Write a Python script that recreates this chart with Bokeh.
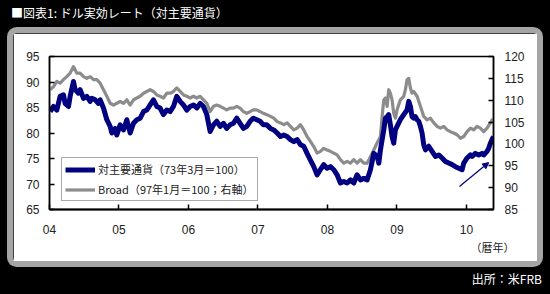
from bokeh.plotting import figure
from bokeh.layouts import column
from bokeh.models import (LinearAxis, Range1d, Legend, LegendItem, Arrow, NormalHead,
                          FixedTicker, Div, Title)
from bokeh.embed import file_html
from bokeh.resources import INLINE

title_text = "■図表1: ドル実効レート（対主要通貨）"
source_text = "出所：米FRB"
xunit_text = "（暦年）"
major_name = "対主要通貨（73年3月＝100）"
broad_name = "Broad（97年1月＝100；右軸）"

year_ticks = [2004, 2005, 2006, 2007, 2008, 2009, 2010]
year_labels = ["04", "05", "06", "07", "08", "09", "10"]
left_ticks = [65, 70, 75, 80, 85, 90, 95]
right_ticks = [85, 90, 95, 100, 105, 110, 115, 120]

# 対主要通貨 (left axis), decimal year / index value
major_t = [2004.010, 2004.058, 2004.105, 2004.153, 2004.201, 2004.225, 2004.273, 2004.297,
           2004.345, 2004.369, 2004.417, 2004.441, 2004.489, 2004.537, 2004.585, 2004.609,
           2004.657, 2004.705, 2004.729, 2004.777, 2004.825, 2004.873, 2004.897, 2004.945,
           2004.969, 2005.017, 2005.065, 2005.113, 2005.161, 2005.209, 2005.257, 2005.305,
           2005.353, 2005.400, 2005.448, 2005.496, 2005.544, 2005.592, 2005.640, 2005.688,
           2005.736, 2005.784, 2005.832, 2005.880, 2005.928, 2005.976, 2006.024, 2006.072,
           2006.120, 2006.168, 2006.216, 2006.264, 2006.312, 2006.360, 2006.408, 2006.456,
           2006.504, 2006.551, 2006.599, 2006.647, 2006.695, 2006.743, 2006.791, 2006.839,
           2006.887, 2006.935, 2006.983, 2007.031, 2007.079, 2007.127,
           2007.180, 2007.228, 2007.276, 2007.324, 2007.372, 2007.420, 2007.468, 2007.516,
           2007.564, 2007.612, 2007.659, 2007.707, 2007.755, 2007.803, 2007.851, 2007.899,
           2007.947, 2007.995, 2008.043, 2008.091, 2008.139, 2008.187, 2008.235, 2008.283,
           2008.331, 2008.379, 2008.427, 2008.475, 2008.523, 2008.571, 2008.619, 2008.667,
           2008.715, 2008.739, 2008.763, 2008.811, 2008.835, 2008.859, 2008.882, 2008.906,
           2008.930, 2008.954, 2008.978, 2009.002, 2009.050, 2009.098, 2009.146, 2009.170,
           2009.194, 2009.218, 2009.242, 2009.266, 2009.290, 2009.314, 2009.338, 2009.362,
           2009.386, 2009.410, 2009.458, 2009.506, 2009.554, 2009.602, 2009.650, 2009.698,
           2009.746, 2009.794, 2009.842, 2009.890, 2009.938, 2009.962, 2010.010, 2010.058,
           2010.082, 2010.129, 2010.177, 2010.225, 2010.249, 2010.297, 2010.321, 2010.345,
           2010.369, 2010.390]
major_v = [84.2, 85.2, 84.5, 87.2, 87.5, 85.8, 85.2, 87.2,
           90.1, 88.5, 87.8, 88.5, 86.8, 87.2, 86.2, 86.8,
           86.5, 85.8, 86.5, 84.9, 82.6, 81.3, 80.0, 80.9,
           79.6, 81.6, 80.6, 82.6, 80.0, 81.9, 82.6, 82.9,
           84.2, 84.5, 85.5, 86.5, 85.2, 84.9, 83.6, 84.5,
           84.2, 85.2, 87.2, 86.2, 85.5, 84.5, 85.2, 85.5,
           84.9, 85.8, 85.2, 83.6, 80.3, 81.6, 82.3, 81.3,
           81.9, 80.9, 81.6, 81.9, 82.9, 81.9, 80.9, 81.3,
           82.3, 82.9, 82.6, 82.3, 81.6, 81.6,
           80.9, 80.6, 80.0, 79.3, 79.6, 79.3, 78.7, 78.3,
           78.7, 77.7, 77.4, 76.0, 74.7, 73.4, 71.8, 72.8,
           73.8, 73.1, 73.4, 72.8, 71.8, 70.2, 70.5, 70.2,
           70.8, 70.2, 71.8, 70.8, 71.1, 70.8, 72.8, 76.0,
           75.4, 74.1, 76.7, 80.6, 82.9, 83.2, 83.6, 81.6,
           79.3, 78.0, 80.6, 81.3, 82.6, 83.6, 84.5, 86.2,
           85.2, 83.2, 82.9, 83.2, 82.6, 82.3, 81.3, 80.0,
           77.7, 76.7, 77.4, 76.4, 75.4, 75.7, 75.1, 74.4,
           74.1, 73.8, 73.4, 73.1, 72.8, 74.1, 75.1, 75.7,
           75.4, 76.0, 75.7, 76.0, 75.7, 76.4, 77.0, 78.0,
           78.7, 79.3]

# Broad (right axis)
broad_t = [2004.010, 2004.058, 2004.105, 2004.153, 2004.201, 2004.249, 2004.297, 2004.345,
           2004.393, 2004.441, 2004.489, 2004.537, 2004.585, 2004.633, 2004.681, 2004.729,
           2004.777, 2004.825, 2004.873, 2004.921, 2004.969, 2005.017, 2005.065, 2005.113,
           2005.161, 2005.209, 2005.257, 2005.305, 2005.353, 2005.400, 2005.448, 2005.496,
           2005.544, 2005.592, 2005.640, 2005.688, 2005.736, 2005.784, 2005.832, 2005.880,
           2005.928, 2005.976, 2006.024, 2006.072, 2006.120, 2006.168, 2006.216, 2006.264,
           2006.312, 2006.360, 2006.408, 2006.456, 2006.504, 2006.551, 2006.599, 2006.647,
           2006.695, 2006.743, 2006.791, 2006.839, 2006.887, 2006.935, 2006.983, 2007.031,
           2007.079, 2007.127,
           2007.180, 2007.228, 2007.276, 2007.324, 2007.372, 2007.420, 2007.468, 2007.516,
           2007.564, 2007.612, 2007.659, 2007.707, 2007.755, 2007.803, 2007.851, 2007.899,
           2007.947, 2007.995, 2008.043, 2008.091, 2008.139, 2008.187, 2008.235, 2008.283,
           2008.331, 2008.379, 2008.427, 2008.475, 2008.523, 2008.571, 2008.619, 2008.667,
           2008.715, 2008.763, 2008.787, 2008.811, 2008.835, 2008.859, 2008.882, 2008.906,
           2008.930, 2008.954, 2008.978, 2009.002, 2009.050, 2009.098, 2009.122, 2009.146,
           2009.170, 2009.194, 2009.218, 2009.242, 2009.290, 2009.338, 2009.386, 2009.434,
           2009.482, 2009.530, 2009.578, 2009.626, 2009.674, 2009.722, 2009.770, 2009.818,
           2009.866, 2009.914, 2009.962, 2010.010, 2010.058, 2010.105, 2010.153, 2010.201,
           2010.249, 2010.297, 2010.345, 2010.369, 2010.390]
broad_v = [112.4, 113.1, 114.3, 113.9, 114.7, 115.4, 116.2, 117.7,
           116.2, 116.2, 115.4, 115.0, 115.4, 114.7, 114.7, 113.9,
           112.4, 110.9, 109.3, 108.9, 109.3, 109.7, 109.3, 110.1,
           108.9, 110.1, 110.5, 110.9, 111.6, 112.0, 112.4, 112.0,
           111.2, 110.9, 110.5, 111.6, 111.6, 112.0, 112.8, 112.0,
           111.2, 110.9, 110.5, 110.9, 110.5, 110.9, 110.1, 109.3,
           107.4, 108.6, 108.9, 108.6, 108.2, 107.8, 108.2, 108.2,
           108.6, 108.2, 107.4, 107.0, 107.4, 107.8, 107.8, 107.4,
           107.0, 106.7,
           106.3, 105.9, 105.1, 104.8, 104.4, 104.8, 104.0, 103.2,
           103.6, 104.4, 103.2, 101.7, 100.6, 99.4, 97.9, 98.3,
           99.0, 98.6, 98.3, 97.9, 97.5, 96.4, 95.6, 96.0,
           95.6, 96.4, 95.6, 96.4, 95.6, 95.6, 97.1, 98.6,
           100.2, 101.7, 106.3, 110.1, 110.5, 108.6, 112.4, 111.6,
           110.1, 107.0, 105.9, 107.8, 110.1, 110.9, 112.4, 114.7,
           115.0, 112.8, 111.6, 112.0, 110.9, 108.6, 106.3, 105.5,
           105.9, 104.8, 104.0, 103.6, 104.0, 103.2, 102.8, 102.5,
           102.1, 101.3, 101.7, 102.8, 103.6, 103.2, 104.0, 103.6,
           102.8, 103.6, 104.8, 105.5, 105.1]

arrow_start = (2009.90, 69.5)
arrow_end = (2010.32, 74.2)

NAVY = "#000080"
GRAY = "#8c8c8c"
JP = "Noto Sans CJK JP"
NUM = "Liberation Sans"

p = figure(width=524, height=228, output_backend="svg", toolbar_location=None,
           x_range=Range1d(2004, 2010.39), y_range=Range1d(65, 95),
           min_border_left=36, min_border_right=44, min_border_top=23, min_border_bottom=52,
           border_fill_color="white", background_fill_color="white",
           outline_line_color="black", outline_line_width=1.5,
           margin=(0, 0, 0, 13),
           styles={"box-shadow": "0 0 0 6px #a5a5a5", "border-radius": "4px"})
p.extra_y_ranges = {"right": Range1d(85, 120)}
p.xgrid.visible = False
p.ygrid.visible = False


def style_axis(ax, standoff):
    ax.major_tick_in = 5
    ax.major_tick_out = 0
    ax.minor_tick_in = 0
    ax.minor_tick_out = 0
    ax.axis_line_color = "black"
    ax.axis_line_width = 1.5
    ax.major_tick_line_color = "black"
    ax.major_tick_line_width = 1.5
    ax.major_label_text_font = NUM
    ax.major_label_text_font_size = "12px"
    ax.major_label_text_color = "#222222"
    ax.major_label_standoff = standoff


xa = p.xaxis[0]
xa.ticker = FixedTicker(ticks=year_ticks)
xa.major_label_overrides = {t: l for t, l in zip(year_ticks, year_labels)}
style_axis(xa, 15)
xa.axis_line_width = 2

ya = p.yaxis[0]
ya.ticker = FixedTicker(ticks=left_ticks)
style_axis(ya, 10)

ra = LinearAxis(y_range_name="right", ticker=FixedTicker(ticks=right_ticks))
style_axis(ra, 11)
p.add_layout(ra, "right")

p.add_layout(Title(text=xunit_text, align="right", offset=-21, standoff=0,
                   text_font=JP, text_font_size="11px", text_font_style="normal",
                   text_color="#222222"), "below")

r_broad = p.line(broad_t, broad_v, y_range_name="right", line_color=GRAY, line_width=3.2,
                 line_join="round")
r_major = p.line(major_t, major_v, line_color=NAVY, line_width=5, line_join="round")

legend = Legend(items=[LegendItem(label=major_name, renderers=[r_major]),
                       LegendItem(label=broad_name, renderers=[r_broad])],
                location=(12, 8), margin=0, padding=3, spacing=4,
                glyph_width=30, glyph_height=13, label_height=13, label_standoff=3,
                label_text_font=JP, label_text_font_size="11px", label_text_color="#222222",
                background_fill_color="white", background_fill_alpha=1.0,
                border_line_color="#555555", border_line_width=1)
p.add_layout(legend)

p.add_layout(Arrow(end=NormalHead(size=6, fill_color=NAVY, line_color=NAVY),
                   x_start=arrow_start[0], y_start=arrow_start[1],
                   x_end=arrow_end[0], y_end=arrow_end[1],
                   line_color=NAVY, line_width=1.2))

title_div = Div(text=title_text, width=550, height=33, margin=0,
                styles={"color": "white", "font-family": JP, "font-size": "12px",
                        "padding-left": "11px", "padding-top": "4px",
                        "box-sizing": "border-box"})
source_div = Div(text=source_text, width=550, height=33, margin=0,
                 styles={"color": "white", "font-family": JP, "font-size": "12px",
                         "padding-right": "8px", "padding-top": "9px",
                         "text-align": "right", "box-sizing": "border-box"})

page = column(title_div, p, source_div, width=550, height=294, margin=0, spacing=0,
              styles={"background-color": "black"})

open("out.html", "w").write(file_html(page, INLINE))
